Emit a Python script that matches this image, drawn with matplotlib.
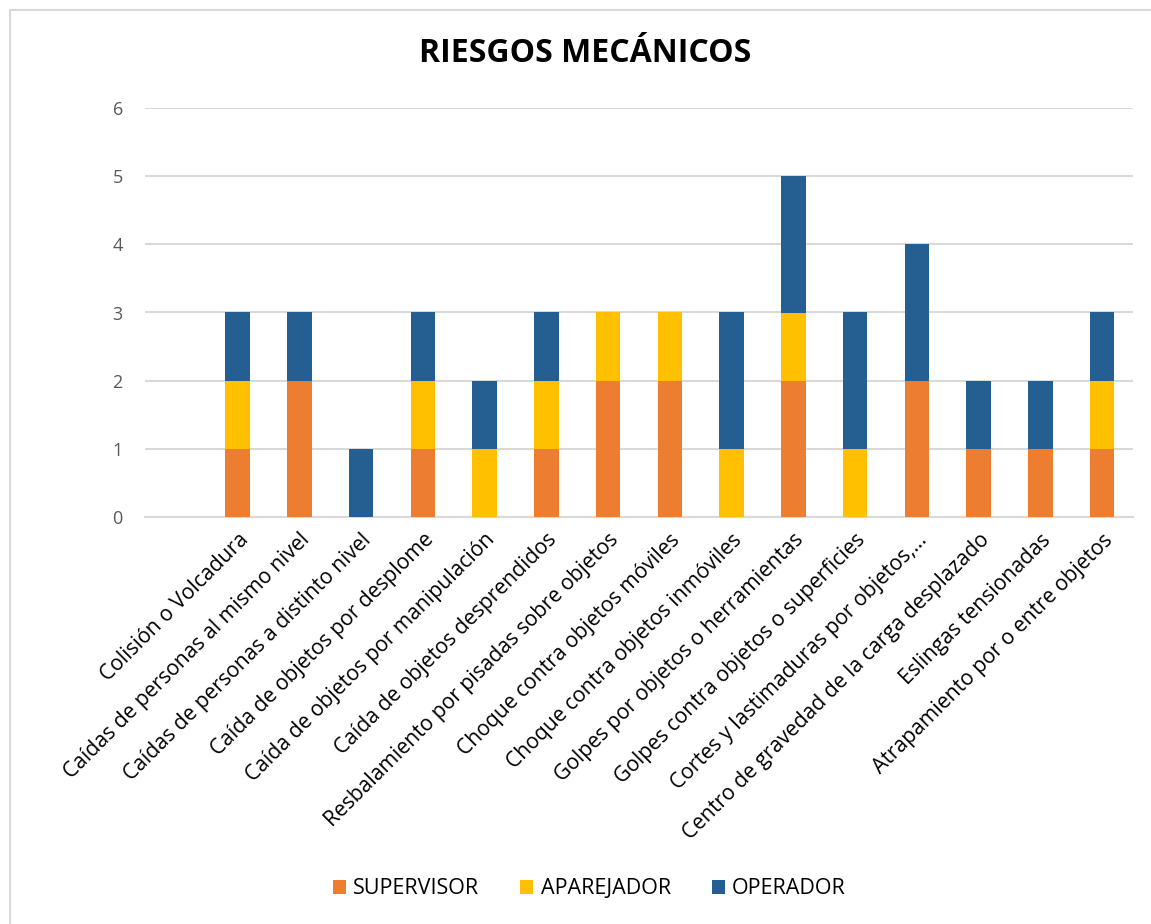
import numpy as np
import matplotlib
matplotlib.use('Agg')
import matplotlib.pyplot as plt
from matplotlib.patches import Rectangle

# primera categoria vacia, como en la hoja original
categorias = [
    '',
    'Colisión o Volcadura',
    'Caídas de personas al mismo nivel',
    'Caídas de personas a distinto nivel',
    'Caída de objetos por desplome',
    'Caída de objetos por manipulación',
    'Caída de objetos desprendidos',
    'Resbalamiento por pisadas sobre objetos',
    'Choque contra objetos móviles',
    'Choque contra objetos inmóviles',
    'Golpes por objetos o herramientas',
    'Golpes contra objetos o superficies',
    'Cortes y lastimaduras por objetos,…',
    'Centro de gravedad de la carga desplazado',
    'Eslingas tensionadas',
    'Atrapamiento por o entre objetos',
]
supervisor = [0, 1, 2, 0, 1, 0, 1, 2, 2, 0, 2, 0, 2, 1, 1, 1]
aparejador = [0, 1, 0, 0, 1, 1, 1, 1, 1, 1, 1, 1, 0, 0, 0, 1]
operador = [0, 1, 1, 1, 1, 1, 1, 0, 0, 2, 2, 2, 2, 1, 1, 1]
series = ['SUPERVISOR', 'APAREJADOR', 'OPERADOR']
colores = ['#ED7D31', '#FFC000', '#255E91']

plt.rcParams['font.family'] = ['Open Sans', 'DejaVu Sans']

fig = plt.figure(figsize=(11.51, 9.24), dpi=100)
ax = fig.add_axes([145/1151, 1-517/924, (1133-145)/1151, (517-108)/924])

x = np.arange(len(categorias))
bottom = np.zeros(len(categorias))
for nombre, vals, c in zip(series, [supervisor, aparejador, operador], colores):
    ax.bar(x, vals, 0.40, bottom=bottom, color=c, label=nombre, zorder=3)
    bottom += np.array(vals)

ax.set_xlim(-0.5, len(categorias) - 0.5)
ax.set_ylim(0, 6)
ax.set_yticks(range(7))
ax.grid(axis='y', color='#D9D9D9', linewidth=1.5, zorder=0)
for s in ['top', 'right', 'left']:
    ax.spines[s].set_visible(False)
ax.spines['bottom'].set_color('#D9D9D9')
ax.spines['bottom'].set_linewidth(1.5)
ax.tick_params(axis='y', length=0, labelsize=13, labelcolor='#595959', pad=16)
ax.tick_params(axis='x', length=0, pad=9)
ax.set_xticks(x)
ax.set_xticklabels(categorias, rotation=45, ha='right', rotation_mode='anchor',
                   fontsize=15.2, color='#000000')

fig.text(0.508, 1-53/924, 'RIESGOS MECÁNICOS', ha='center', va='center',
         fontsize=23, fontweight='bold', color='black')

fig.legend(loc='center', bbox_to_anchor=(0.512, 1-889/924), ncol=3, frameon=False,
           fontsize=15.5, handlelength=0.6, handleheight=0.6, columnspacing=1.9,
           handletextpad=0.35)

fig.patches.append(Rectangle((10/1151, -0.1), 1.2, 1-10/924+0.1,
                             transform=fig.transFigure, fill=False,
                             edgecolor='#D9D9D9', linewidth=1.5))

fig.savefig('out.png', dpi=100)
